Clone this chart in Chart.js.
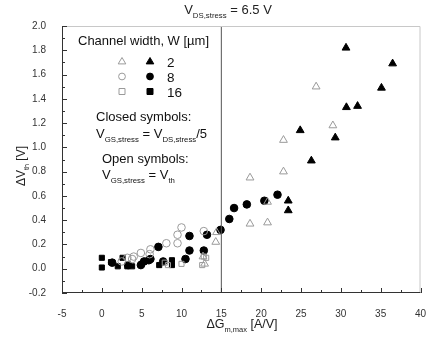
<!DOCTYPE html>
<html>
<head>
<meta charset="utf-8">
<script src="https://cdn.jsdelivr.net/npm/chart.js@4.4.1/dist/chart.umd.min.js"></script>
<style>
  html, body { margin: 0; padding: 0; background: #fff; }
  #wrap { width: 426px; height: 338px; }
</style>
</head>
<body>
<div id="wrap"><canvas id="myChart" width="426" height="338"></canvas></div>
<script>
// values: [dGm,max, dVth]
var tri2Closed = [[30.65,1.82],[36.5,1.69],[35.1,1.49],[30.7,1.33],[32.1,1.34],[24.9,1.14],
	[29.3,1.08],[26.3,0.89],[23.4,0.56],[23.4,0.48]];
var tri2Open = [[26.9,1.50],[29.0,1.18],[22.8,1.06],[18.6,0.75],[22.8,0.80],[18.6,0.37],
	[20.8,0.38],[20.8,0.55],[14.4,0.30],[14.3,0.22],[12.7,0.10],[12.9,0.04]];
var circ8Closed = [[1.3,0.05],[3.3,0.03],[4.9,0.03],[5.3,0.06],[5.9,0.07],[6.1,0.08],[7.1,0.18],
	[7.7,0.06],[10.5,0.08],[11.0,0.15],[11.0,0.27],[12.8,0.15],[13.2,0.28],[14.9,0.32],
	[16.0,0.41],[16.6,0.50],[18.2,0.53],[20.4,0.56],[22.05,0.61]];
var circ8Open = [[2.5,0.06],[3.2,0.09],[3.8,0.08],[4.0,0.10],[4.9,0.13],[6.0,0.12],[6.1,0.16],
	[8.1,0.21],[9.5,0.21],[9.5,0.28],[10.0,0.34],[12.8,0.31]];
var sq16Closed = [[0,0.09],[0,0.01],[1.15,0.055],[2.0,0.02],[2.6,0.09],[3.2,0.02],[3.8,0.02],
	[5.0,0.04],[7.2,0.03],[8.8,0.07],[8.8,0.03]];
var sq16Open = [[7.9,0.05],[8.3,0.03],[10.0,0.04],[12.6,0.03],[12.8,0.10],[13.1,0.09]];
var markerLine = [[15,-0.2],[15,2.0]];

var xMin = -5, xMax = 40, xStep = 5;
var yMin = -0.2, yMax = 2.0, yStep = 0.2;

var FONT = "'Liberation Sans', Arial, sans-serif";
var GREY = '#9a9a9a';

function pts(arr) {
	return arr.map(function(p) { return { x: p[0], y: p[1] }; });
}
function ds(arr, style, filled, r) {
	return {
		data: pts(arr),
		pointStyle: style,
		pointRadius: r,
		pointHoverRadius: r,
		backgroundColor: filled ? '#000' : 'rgba(255,255,255,0)',
		borderColor: filled ? '#000' : GREY,
		borderWidth: 1,
		showLine: false
	};
}

// text with subscripts: parts = [[text, sub?], ...]
function richText(ctx, parts, x, y, size, align) {
	var w = 0, i;
	for (i = 0; i < parts.length; i++) {
		ctx.font = (parts[i][1] ? size * 0.6 : size) + 'px ' + FONT;
		w += ctx.measureText(parts[i][0]).width;
	}
	var cx = align === 'center' ? x - w / 2 : x;
	for (i = 0; i < parts.length; i++) {
		var sub = parts[i][1];
		ctx.font = (sub ? size * 0.6 : size) + 'px ' + FONT;
		ctx.fillText(parts[i][0], cx, sub ? y + size * 0.3 : y);
		cx += ctx.measureText(parts[i][0]).width;
	}
}

function sym(ctx, style, filled, x, y, r) {
	ctx.save();
	ctx.fillStyle = '#000';
	ctx.strokeStyle = filled ? '#000' : GREY;
	ctx.lineWidth = 1;
	ctx.beginPath();
	if (style === 'triangle') {
		ctx.moveTo(x, y - r);
		ctx.lineTo(x + r * 0.95, y + r * 0.6);
		ctx.lineTo(x - r * 0.95, y + r * 0.6);
		ctx.closePath();
	} else if (style === 'circle') {
		ctx.arc(x, y, r * 0.85, 0, Math.PI * 2);
	} else {
		ctx.rect(x - r * 0.75, y - r * 0.75, r * 1.5, r * 1.5);
	}
	if (filled) ctx.fill();
	ctx.stroke();
	ctx.restore();
}

var decor = {
	id: 'decor',
	afterDraw: function(chart) {
		var ctx = chart.ctx, a = chart.chartArea;
		var xs = chart.scales.x, ys = chart.scales.y;
		ctx.save();
		// frame
		ctx.lineWidth = 1;
		ctx.strokeStyle = '#c8c8c8';
		ctx.beginPath();
		ctx.moveTo(a.left, a.top + 0.5); ctx.lineTo(a.right - 0.5, a.top + 0.5);
		ctx.lineTo(a.right - 0.5, a.bottom);
		ctx.stroke();
		ctx.strokeStyle = '#333';
		ctx.beginPath();
		ctx.moveTo(a.left + 0.5, a.top); ctx.lineTo(a.left + 0.5, a.bottom - 0.5);
		ctx.lineTo(a.right, a.bottom - 0.5);
		ctx.stroke();
		// inward ticks
		ctx.beginPath();
		var v, p;
		for (v = xMin; v <= xMax + 0.001; v += xStep / 2) {
			p = Math.round(xs.getPixelForValue(v)) + 0.5;
			var major = Math.abs((v - xMin) % xStep) < 0.001;
			ctx.moveTo(p, a.bottom); ctx.lineTo(p, a.bottom - (major ? 5 : 3));
		}
		for (v = yMin; v <= yMax + 0.001; v += yStep / 2) {
			p = Math.round(ys.getPixelForValue(v)) + 0.5;
			var k = Math.round((v - yMin) / (yStep / 2));
			ctx.moveTo(a.left, p); ctx.lineTo(a.left + (k % 2 === 0 ? 5 : 3), p);
		}
		ctx.stroke();

		ctx.fillStyle = '#222';
		ctx.textBaseline = 'alphabetic';
		// title
		richText(ctx, [['V', 0], ['DS,stress', 1], [' = 6.5 V', 0]], 228, 14, 13, 'center');
		// x title
		richText(ctx, [['\u0394G', 0], ['m,max', 1], [' [A/V]', 0]], 242, 328, 12.5, 'center');
		// y title
		ctx.save();
		ctx.translate(25, 166);
		ctx.rotate(-Math.PI / 2);
		richText(ctx, [['\u0394V', 0], ['th', 1], [' [V]', 0]], 0, 0, 12, 'center');
		ctx.restore();

		// legend text
		ctx.fillStyle = '#111';
		richText(ctx, [['Channel width, W [\u00b5m]', 0]], 78, 45, 13, 'left');
		var rows = [['triangle', '2', 61.5], ['circle', '8', 76.5], ['rect', '16', 91.5]];
		rows.forEach(function(r) {
			sym(ctx, r[0], false, 122, r[2], 4);
			sym(ctx, r[0], true, 150, r[2], 4);
			ctx.fillStyle = '#111';
			richText(ctx, [[r[1], 0]], 167, r[2] + 5, 13.5, 'left');
		});
		richText(ctx, [['Closed symbols:', 0]], 96, 121, 13, 'left');
		richText(ctx, [['V', 0], ['GS,stress', 1], [' = V', 0], ['DS,stress', 1], ['/5', 0]], 96, 138, 13, 'left');
		richText(ctx, [['Open symbols:', 0]], 102, 163, 13, 'left');
		richText(ctx, [['V', 0], ['GS,stress', 1], [' = V', 0], ['th', 1]], 102, 179, 13, 'left');
		ctx.restore();
	}
};

var ctx = document.getElementById('myChart');
var config = {
	type: 'scatter',
	data: {
		datasets: [
			{
				data: pts(markerLine),
				showLine: true,
				borderColor: '#555',
				borderWidth: 1,
				pointRadius: 0,
				pointHoverRadius: 0
			},
			ds(tri2Open, 'triangle', false, 4.5),
			ds(circ8Open, 'circle', false, 3.8),
			ds(sq16Open, 'rect', false, 3.6),
			ds(tri2Closed, 'triangle', true, 4.5),
			ds(circ8Closed, 'circle', true, 3.8),
			ds(sq16Closed, 'rect', true, 3.6)
		]
	},
	options: {
		responsive: false,
		animation: false,
		layout: { padding: { top: 26, right: 0, left: 0, bottom: 0 } },
		plugins: { legend: { display: false }, tooltip: { enabled: false } },
		scales: {
			x: {
				type: 'linear', min: xMin, max: xMax,
				grid: { display: false },
				border: { display: false },
				ticks: { stepSize: xStep, padding: 7, color: '#333', font: { size: 10, family: FONT } },
				afterFit: function(s) { s.height = 45; s.paddingRight = 0; s.paddingLeft = 0; }
			},
			y: {
				type: 'linear', min: yMin, max: yMax,
				grid: { display: false },
				border: { display: false },
				ticks: {
					stepSize: yStep, padding: 8, color: '#333', font: { size: 10, family: FONT },
					callback: function(v) { return (Math.round(v * 10) / 10).toFixed(1); }
				},
				afterFit: function(s) { s.width = 62; s.paddingTop = 0; s.paddingBottom = 0; }
			}
		}
	},
	plugins: [decor]
};
var myChart = new Chart(ctx, config);
</script>
</body>
</html>
